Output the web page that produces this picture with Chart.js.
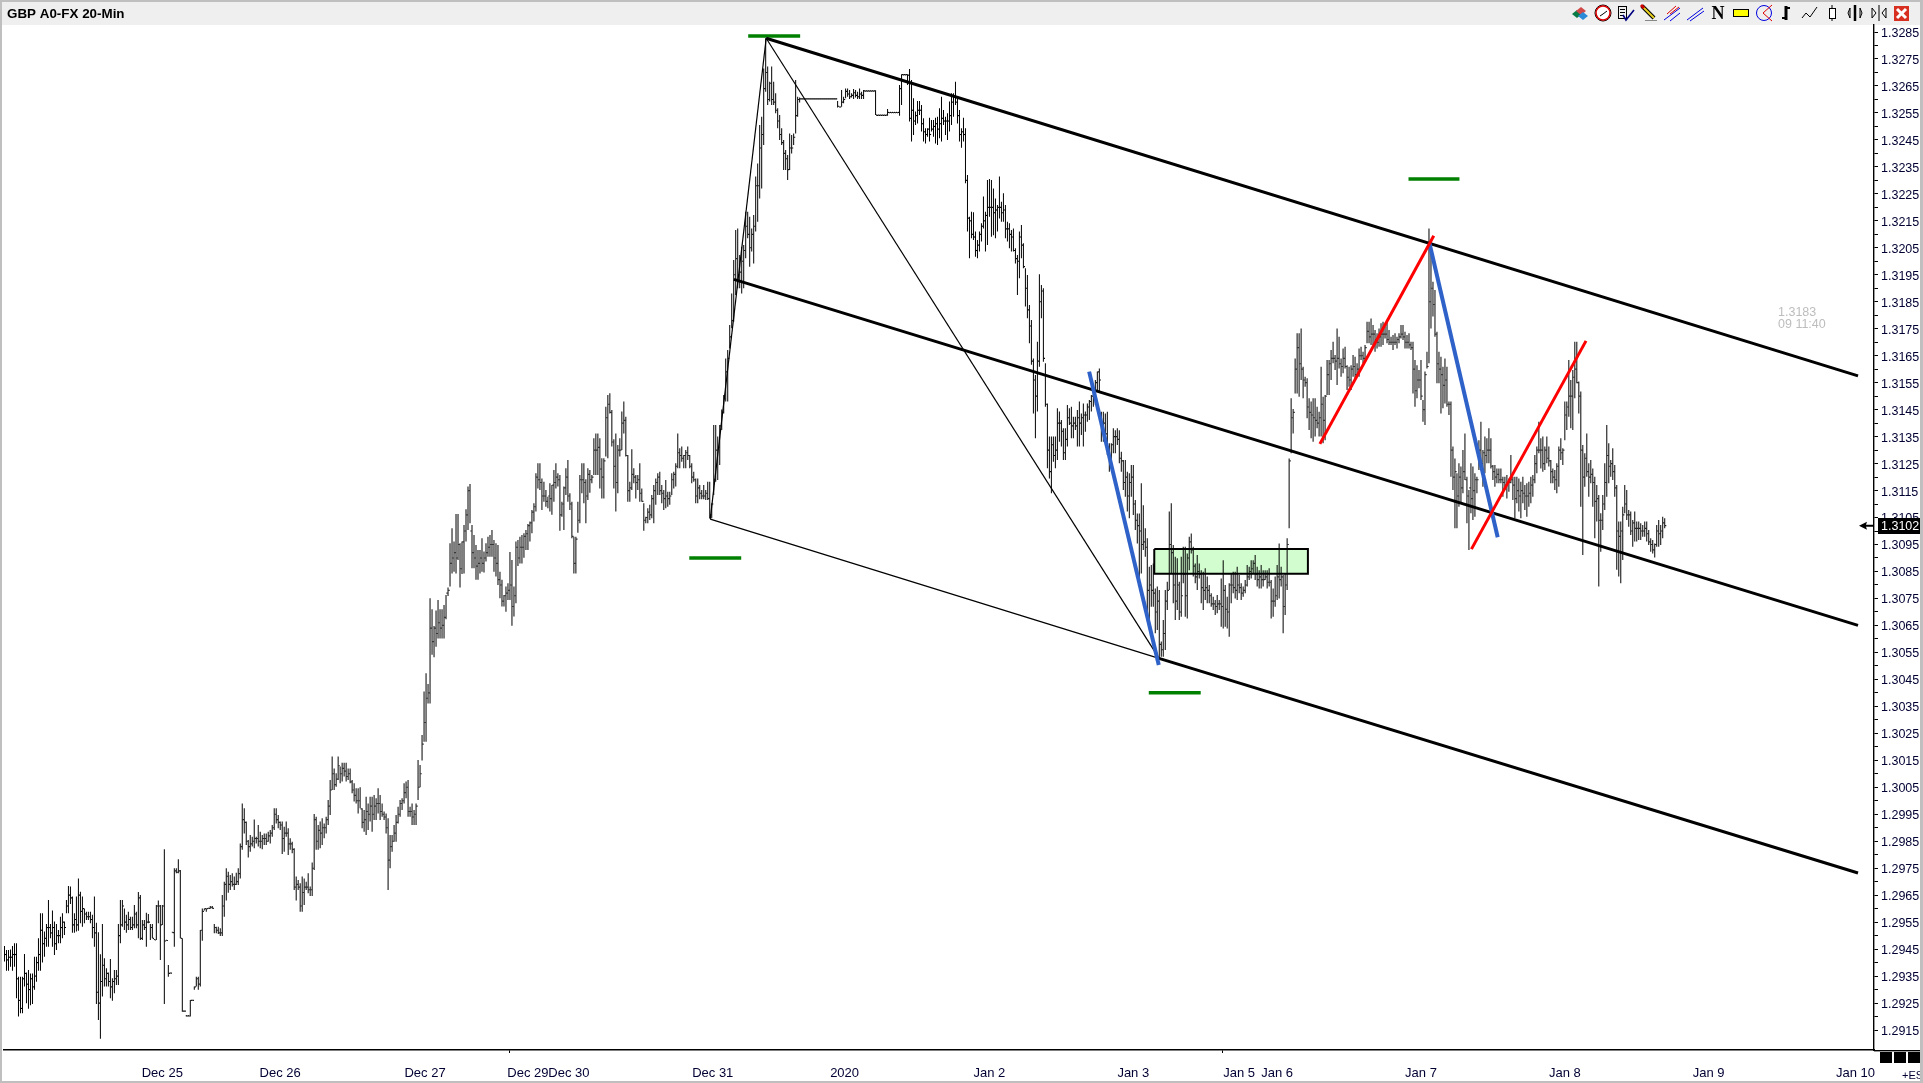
<!DOCTYPE html>
<html><head><meta charset="utf-8"><title>GBP A0-FX 20-Min</title>
<style>html,body{margin:0;padding:0;background:#fff;overflow:hidden}canvas{display:block}</style>
<script src="https://cdn.jsdelivr.net/npm/chart.js@4/dist/chart.umd.min.js"></script>
</head><body><canvas id="c" width="1923" height="1083" style="width:1923px;height:1083px"></canvas>
<script>
// values in points: 100000 points = 1.00000 of price
const highs=[
129462,129447,129447,129449,129462,129472,129472,129348,129348,129348,
129432,129363,129373,129360,129360,129422,129422,129490,129583,129583,
129515,129543,129632,129543,129593,129552,129543,129521,129570,129583,
129552,129632,129684,129682,129645,129583,129645,129712,129663,129645,
129601,129589,129589,129589,129577,129645,129548,129513,129431,129543,
129416,129379,129363,129413,129342,129373,129373,129543,129632,129632,
129601,129577,129589,129570,129570,129614,129589,129662,129651,129558,
129558,129585,129580,129543,129543,129484,129614,129630,129614,129614,
129820,129484,129391,129363,129512,129750,129750,129783,129743,129490,
129222,129206,129206,129261,129261,129311,129348,129348,129521,129601,
129601,129601,129601,129610,129610,129543,129533,129533,129527,129651,
129700,129750,129737,129725,129731,129719,129733,129750,129842,129990,
129972,129923,129855,129873,129867,129931,129867,129910,129885,129873,
129879,129879,129885,129892,129910,129972,129972,129947,129923,129923,
129904,129923,129898,129861,129848,129824,129719,129706,129694,129719,
129712,129700,129731,129682,129771,129951,129941,129910,129923,129935,
129916,129941,130003,130077,
130164,130120,130102,130164,130127,130141,130141,130141,130120,130120,
130077,130065,130046,130046,130050,129972,129966,130015,129990,130015,
130015,130021,130009,130046,130021,129990,129960,129953,129935,129873,
129873,129910,129947,129978,130003,130009,130065,130071,130077,129978,
129990,129966,129990,
130151,130133,130244,130405,130473,130433,130751,130710,130648,130705,
130744,130710,130710,130726,130763,130791,130955,131010,130961,131063,
131063,130955,130961,131022,131081,131165,131174,131022,130985,130948,
130930,130930,130973,130924,130955,130979,130985,131004,130967,130955,
130948,130849,130819,130763,130794,130806,130922,130893,130794,130961,
130967,130979,130985,130992,131004,131026,131035,131078,131103,131214,
131251,131251,131195,131183,131152,131127,131177,131171,131226,131251,
131214,131208,131109,131165,131233,131263,131140,131109,130979,130979,
131109,131208,131251,131251,131192,131233,131226,131208,131344,131362,
131362,131344,131270,131270,131461,131504,131511,131449,131340,131362,
131319,131344,131443,131480,131424,131282,131183,131303,131233,131208,
131208,131251,131158,131103,131053,131084,131097,131134,131171,131195,
131214,131220,131171,131152,131189,131146,131146,131214,131220,131251,
131362,131307,131313,131282,131300,131313,131282,131251,131220,131195,
131195,131171,131152,131171,131152,131183,131183,131103,131393,131393,
131350,131393,131451,131504,131640,131671,
131764,131881,132005,132116,132122,132023,132054,132060,132184,132184,
132165,132122,132172,132314,132363,132505,132536,132715,132827,132722,
132666,132722,132666,132623,132567,132542,132493,132450,132413,132394,
132474,132468,132474,132672,132610,132607,
132604,132604,132604,132604,132604,132604,132604,132604,132604,132604,132604,132604,132604,132604,132604,132604,132604,132604,
132594,132573,132635,132610,132641,132641,132635,132623,132639,132635,132629,132641,132629,132635,
132633,132633,132633,132633,132633,132634,
132543,132543,132543,132543,132543,132565,
132553,132553,132553,132553,132553,132654,132693,132693,132693,132693,
132713,132672,132604,132555,132594,132594,132579,132530,132493,132493,
132532,132524,132524,132532,132536,132567,132610,132561,132536,132549,
132592,132623,132623,132666,132610,132561,132493,132532,132493,132320,
132165,132184,132182,132110,132079,132110,132141,132240,132184,132301,
132305,132301,132270,132233,132209,132314,132221,132252,132209,132147,
132141,132116,132122,132048,132023,132110,132135,132067,131974,131949,
131838,131782,131640,131578,131702,131952,131912,131900,131622,131473,
131350,131350,131350,131350,131455,131443,131412,131381,131381,131467,
131455,131461,131424,131424,131449,131480,131436,131473,131443,131473,
131486,131504,131523,131560,131591,131603,
131442,131442,131436,131442,131325,131325,131381,131374,131381,131374,
131294,131263,131263,131220,131214,131245,131245,131115,131065,131065,
131177,131096,131010,130973,130868,130874,130880,130787,130794,130781,
130590,130670,130781,130812,131072,131103,130948,130905,130899,130812,
130905,130942,130942,130917,130979,130991,130942,130880,130911,130880,
130855,130849,130862,130831,130800,130769,130756,130744,130763,130744,
130824,130892,130800,130756,130806,130843,130849,130849,130868,130837,
130806,130794,130818,130874,130868,130892,130892,130911,130868,130855,
130874,130855,130855,130855,130862,130818,130787,130831,130874,130954,
130868,130837,130843,130973,
131269,131492,131452,131640,131733,131733,131751,131609,131572,131566,
131492,131480,131492,131492,131461,131442,131609,131498,131504,131634,
131634,131671,131702,131653,131751,131720,131640,131677,131683,131615,
131609,131615,131653,131646,131622,131677,131683,131665,131690,131776,
131776,131788,131764,131745,131733,131751,131770,131776,131758,131782,
131745,131720,131727,131733,131720,131733,131764,131764,131739,131727,
131733,131702,131702,131634,131615,131597,131634,131486,131591,131665,
132122,132079,131924,131894,131739,131665,131646,131609,131640,131609,
131480,131480,131313,131269,131214,131251,131239,131300,131362,131201,
131152,131251,131239,131214,131201,131337,131405,131300,131350,131344,
131381,131344,131245,131245,131232,131232,131232,131201,131201,131208,
131195,131282,131201,131201,131201,131195,131183,131201,131171,131177,
131183,131201,131208,131282,131313,131405,131344,131350,131313,131350,
131313,131263,131232,131226,131251,131313,131344,131307,131480,131480,
131634,131560,131597,131702,131702,131554,131517,131319,131288,131362,
131251,131263,131232,131201,131171,131134,131066,131134,131251,131393,
131325,131263,131307,131245,131171,131035,131035,131090,131171,131152,
131078,131072,131041,131072,131035,131035,131029,131022,131035,131035,
131004,130973,130967,130954,131022,131041,131022,131053,131047
];
const lows=[
129404,129370,129370,129385,129370,129385,129268,129200,129212,129212,
129311,129249,129229,129242,129247,129299,129329,129370,129370,129400,
129422,129459,129459,129490,129459,129428,129447,129472,129472,129490,
129502,129583,129583,129617,129511,129511,129515,129518,129546,129533,
129546,129558,129558,129546,129490,129459,129247,129187,129118,129274,
129311,129311,129311,129268,129259,129286,129317,129317,129472,129533,
129521,129511,129521,129521,129521,129527,129527,129490,129484,129484,
129521,129459,129546,129484,129490,129484,129484,129546,129410,129539,
129247,129481,129348,129360,129511,129459,129731,129731,129490,129218,
129218,129200,129200,129200,129259,129299,129311,129299,129311,129481,
129593,129589,129600,129600,129600,129509,129509,129506,129499,129499,
129570,129630,129659,129669,129682,129669,129688,129688,129712,129818,
129879,129836,129790,129811,129830,129824,129842,129830,129824,129820,
129836,129836,129848,129842,129867,129892,129916,129898,129892,129803,
129811,129867,129799,129818,129805,129669,129630,129669,129589,129589,
129614,129669,129657,129647,129647,129743,129818,129818,129824,129836,
129861,129879,129910,129947,
130040,130040,130052,130077,130065,130071,130090,130071,130077,130065,
130028,129997,129990,129953,129972,129898,129885,129873,129892,129923,
129885,129929,129929,129953,129929,129941,129929,129879,129669,129750,
129811,129848,129848,129916,129941,129966,129990,130009,129941,129941,
129910,129910,129910,
130003,130050,130149,130219,130219,130361,130361,130541,130532,130571,
130602,130602,130602,130602,130673,130759,130794,130843,130849,130843,
130893,130791,130841,130843,130961,131004,131029,130862,130862,130819,
130819,130843,130849,130846,130887,130905,130905,130905,130849,130831,
130800,130751,130720,130720,130701,130744,130744,130649,130683,130732,
130870,130880,130880,130901,130930,130930,130961,130992,131035,131072,
131158,131152,131078,131109,131090,131084,131072,131060,131109,131158,
131165,131001,131053,131004,131134,131109,131078,130973,130843,130843,
130994,131029,131140,131103,131029,131115,131142,131177,131208,131208,
131208,131158,131121,131121,131276,131270,131436,131313,131158,131072,
131140,131276,131300,131362,131276,131109,131109,131152,131177,131121,
131152,131109,131109,131001,131029,131029,131041,131047,131029,131097,
131134,131134,131103,131078,131084,131090,131097,131134,131158,131165,
131233,131233,131257,131233,131233,131263,131233,131177,131183,131103,
131103,131118,131118,131118,131115,131115,131047,131047,131134,131183,
131189,131245,131375,131436,131480,131480,
131677,131752,131776,131875,131900,131900,131881,131900,132011,132085,
131980,132036,131992,132110,132147,132233,132270,132431,132629,132579,
132592,132579,132579,132549,132493,132450,132431,132338,132338,132301,
132338,132400,132431,132474,132536,132589,
132600,132600,132600,132600,132600,132600,132600,132600,132600,132600,132600,132600,132600,132600,132600,132600,132600,132600,
132570,132570,132573,132586,132604,132610,132602,132607,132602,132607,132602,132602,132602,132602,
132629,132629,132629,132629,132629,132542,
132539,132539,132539,132539,132539,132540,
132549,132549,132549,132549,132549,132540,132579,132689,132689,132654,
132518,132444,132468,132505,132511,132542,132481,132444,132437,132462,
132444,132481,132462,132437,132431,132456,132444,132505,132468,132450,
132481,132505,132536,132579,132511,132444,132421,132444,132289,132110,
132011,132085,132079,132017,132011,132036,132073,132122,132036,132060,
132165,132091,132097,132085,132110,132159,132147,132147,132085,132073,
132048,132036,132036,131992,131875,131937,132011,131974,131832,131789,
131696,131616,131436,131344,131443,131609,131789,131628,131461,131233,
131195,131140,131257,131233,131263,131331,131313,131263,131263,131313,
131393,131344,131344,131375,131313,131313,131356,131313,131368,131405,
131412,131443,131461,131467,131517,131517,
131331,131331,131343,131282,131220,131251,131288,131288,131319,131251,
131220,131152,131127,131072,131047,131127,131059,131004,130954,130818,
130843,130930,130905,130670,130645,130719,130719,130621,130633,130522,
130534,130534,130559,130707,130781,130843,130732,130670,130707,130670,
130682,130806,130682,130676,130855,130917,130831,130806,130781,130824,
130732,130707,130744,130732,130732,130719,130707,130689,130695,130707,
130645,130639,130645,130639,130608,130732,130769,130750,130744,130769,
130744,130756,130769,130794,130818,130824,130843,130818,130794,130787,
130787,130794,130818,130787,130794,130676,130682,130719,130744,130750,
130794,130621,130689,130781,
131010,131288,131362,131510,131510,131498,131560,131492,131535,131418,
131375,131344,131331,131350,131381,131350,131350,131325,131337,131504,
131504,131560,131622,131597,131541,131603,131572,131585,131603,131523,
131535,131523,131572,131566,131572,131572,131634,131622,131628,131696,
131696,131690,131690,131665,131677,131683,131683,131690,131714,131696,
131690,131690,131671,131690,131677,131696,131714,131708,131677,131677,
131677,131671,131510,131461,131492,131529,131486,131405,131393,131603,
131622,131751,131795,131720,131548,131548,131436,131455,131473,131461,
131430,131201,131152,131010,131010,131090,131103,131140,131189,131029,
130930,131066,131041,131053,131140,131226,131226,131164,131214,131251,
131251,131232,131189,131164,131177,131177,131177,131127,131152,131121,
131146,131177,131115,131047,131103,131072,131047,131103,131078,131053,
131090,131103,131127,131177,131214,131288,131232,131220,131226,131251,
131239,131177,131177,131152,131140,131164,131263,131245,131337,131375,
131424,131381,131375,131492,131548,131436,131090,130911,131164,131201,
131127,131177,131090,130973,131035,130794,130923,131004,131078,131127,
131177,131201,131189,131127,130856,130831,130806,130893,131066,131041,
131016,130985,130942,130961,130961,130967,130967,130979,130979,130961,
130948,130923,130917,130902,130942,130942,130948,130973,131010
];
const closes=[
129430,129410,129420,129420,129430,129430,129340,129260,129230,129340,
129360,129320,129300,129340,129310,129350,129400,129430,129520,129470,
129490,129530,129530,129510,129530,129470,129500,129500,129530,129550,
129530,129610,129650,129640,129540,129560,129540,129650,129590,129600,
129580,129570,129570,129560,129530,129510,129290,129250,129330,129390,
129340,129360,129330,129310,129330,129340,129350,129500,129540,129610,
129550,129540,129560,129530,129540,129580,129540,129640,129490,129540,
129530,129550,129550,129530,129490,129484,129610,129610,129540,129610,
129480,129482,129360,129361,129511,129740,129735,129740,129490,129220,
129220,129202,129202,129260,129260,129310,129340,129320,129520,129590,
129600,129600,129601,129605,129601,129530,129520,129510,129510,129610,
129690,129720,129690,129700,129690,129690,129700,129730,129830,129930,
129920,129850,129830,129840,129850,129860,129860,129850,129850,129860,
129860,129850,129870,129880,129900,129950,129930,129920,129910,129860,
129880,129880,129840,129840,129820,129680,129690,129680,129610,129660,
129680,129680,129670,129670,129750,129930,129850,129890,129880,129900,
129900,129930,129980,130040,
130100,130060,130080,130130,130100,130120,130110,130090,130100,130070,
130040,130020,130000,130000,129970,129920,129930,129960,129950,129980,
129950,129980,129990,129990,129960,129950,129940,129900,129780,129830,
129850,129880,129920,129950,129990,130000,130030,130050,129960,129960,
129940,129950,129980,
130050,130100,130210,130290,130380,130400,130640,130590,130640,130620,
130660,130640,130650,130680,130770,130780,130880,130900,130920,130900,
130950,130860,130960,131000,131060,131150,131000,130920,130900,130870,
130880,130900,130880,130900,130920,130940,130950,130950,130900,130880,
130820,130800,130740,130760,130770,130780,130800,130720,130760,130940,
130900,130940,130940,130980,130990,131020,131030,131070,131090,131200,
131190,131180,131130,131130,131110,131130,131120,131170,131180,131200,
131190,131060,131100,131160,131200,131130,131100,130980,130880,130970,
131040,131190,131190,131180,131130,131210,131190,131200,131300,131300,
131310,131230,131200,131260,131420,131470,131440,131330,131240,131180,
131300,131300,131400,131410,131280,131150,131160,131210,131200,131180,
131190,131140,131110,131040,131050,131070,131060,131120,131150,131180,
131200,131150,131140,131120,131130,131120,131130,131190,131210,131240,
131290,131280,131270,131280,131290,131280,131240,131200,131190,131130,
131160,131140,131130,131130,131140,131120,131060,131100,131190,131300,
131310,131390,131440,131490,131590,131640,
131720,131780,131950,132010,131950,131960,132000,132040,132130,132100,
132050,132100,132130,132280,132280,132420,132470,132640,132700,132600,
132660,132600,132590,132560,132520,132470,132440,132400,132380,132340,
132420,132420,132460,132540,132600,132602,
132602,132602,132602,132602,132602,132602,132602,132602,132602,132602,132602,132602,132602,132602,132602,132602,132602,132602,
132575,132572,132590,132600,132630,132620,132610,132615,132625,132615,132610,132620,132615,132632,
132632,132632,132632,132632,132632,132542,
132542,132542,132542,132542,132542,132552,
132552,132552,132552,132552,132552,132640,132692,132692,132692,132690,
132530,132560,132520,132540,132560,132560,132510,132480,132470,132490,
132470,132490,132500,132510,132490,132510,132530,132520,132520,132520,
132540,132590,132610,132590,132540,132470,132480,132470,132300,132160,
132150,132100,132090,132040,132060,132100,132130,132150,132170,132200,
132200,132200,132180,132190,132200,132200,132180,132190,132120,132120,
132100,132090,132040,132010,132000,132090,132060,131980,131900,131820,
131760,131630,131560,131500,131630,131850,131890,131640,131470,131300,
131220,131320,131280,131300,131400,131400,131370,131290,131340,131420,
131400,131390,131400,131390,131420,131400,131420,131430,131430,131460,
131480,131500,131510,131550,131590,131560,
131380,131400,131360,131310,131240,131320,131350,131350,131340,131270,
131260,131180,131200,131130,131180,131200,131100,131040,131020,131000,
130950,130960,130940,130780,130800,130780,130770,130700,130740,130580,
130560,130620,130740,130780,130950,130920,130800,130740,130800,130700,
130760,130840,130760,130900,130960,130930,130870,130830,130850,130840,
130790,130780,130790,130780,130760,130730,130730,130720,130730,130730,
130720,130780,130710,130700,130800,130800,130790,130780,130800,130790,
130770,130780,130800,130830,130850,130860,130880,130840,130820,130830,
130820,130820,130830,130810,130810,130740,130740,130760,130830,130820,
130830,130720,130800,130950,
131260,131420,131440,131600,131680,131620,131600,131560,131550,131460,
131440,131430,131420,131410,131400,131420,131470,131410,131500,131580,
131620,131640,131640,131630,131640,131620,131610,131640,131610,131570,
131560,131600,131610,131580,131600,131650,131650,131640,131680,131740,
131720,131730,131730,131710,131700,131720,131730,131730,131730,131710,
131700,131700,131700,131700,131710,131720,131730,131720,131700,131700,
131690,131680,131600,131520,131560,131560,131500,131450,131580,131610,
131850,131900,131840,131730,131620,131600,131580,131540,131560,131470,
131470,131300,131200,131220,131130,131200,131160,131220,131190,131130,
131160,131120,131150,131190,131190,131300,131250,131290,131280,131300,
131300,131240,131220,131200,131210,131190,131190,131180,131170,131180,
131180,131190,131170,131120,131150,131130,131150,131140,131130,131130,
131140,131170,131190,131250,131300,131300,131300,131250,131300,131270,
131260,131220,131200,131190,131240,131300,131290,131300,131430,131460,
131500,131500,131570,131600,131550,131500,131300,131200,131270,131220,
131200,131210,131180,131110,131120,131040,131040,131100,131180,131280,
131240,131250,131220,131160,131000,130980,131000,131060,131100,131060,
131060,131000,131030,131010,131010,131010,131000,131000,131010,130990,
130960,130950,130930,130950,131000,130990,131000,131030,131020
];
const priceTicks=[1.3285,1.3280,1.3275,1.3270,1.3265,1.3260,1.3255,1.3250,1.3245,1.3240,1.3235,1.3230,1.3225,1.3220,1.3215,1.3210,1.3205,1.3200,1.3195,1.3190,1.3185,1.3180,1.3175,1.3170,1.3165,1.3160,1.3155,1.3150,1.3145,1.3140,1.3135,1.3130,1.3125,1.3120,1.3115,1.3110,1.3105,1.3100,1.3095,1.3090,1.3085,1.3080,1.3075,1.3070,1.3065,1.3060,1.3055,1.3050,1.3045,1.3040,1.3035,1.3030,1.3025,1.3020,1.3015,1.3010,1.3005,1.3000,1.2995,1.2990,1.2985,1.2980,1.2975,1.2970,1.2965,1.2960,1.2955,1.2950,1.2945,1.2940,1.2935,1.2930,1.2925,1.2920,1.2915];
const dateLabels=["Dec 25","Dec 26","Dec 27","Dec 29","Dec 30","Dec 31","2020","Jan 2","Jan 3","Jan 5","Jan 6","Jan 7","Jan 8","Jan 9","Jan 10"];
const dateBars=[79,138,210.5,262,282.5,354.5,420.5,493,565,618,637,709,781,853,926.5];
const weekStartBars=[253,609.5];
const lastPrice=1.3102;
const channelTop=[[381.25,1.32827],[927.75,1.31575]];
const channelMid=[[365.1,1.31933],[927.75,1.30650]];
const channelLow=[[577.9,1.30528],[927.75,1.29732]];
const pivotA=[[353.25,1.31044],[381.25,1.32827]];
const pivotB=[[381.25,1.32827],[577.9,1.30528]];
const pivotC=[[353.25,1.31044],[577.9,1.30528]];
const blueOne=[[542.9,1.31591],[577.75,1.30503]];
const blueTwo=[[713.25,1.32067],[747.4,1.30977]];
const redOne=[[658.4,1.31323],[715.4,1.32095]];
const redTwo=[[734.25,1.30933],[791.6,1.31705]];
const greenMarks=[[[372.25,1.32835],[398.25,1.32835]],[[702.75,1.32305],[728.25,1.32305]],[[342.75,1.30900],[368.75,1.30900]],[[572.75,1.30400],[598.75,1.30400]]];
const zoneLeft=575.5,zoneRight=652.4,zoneTop=1.30933,zoneBottom=1.30842;

const pts=a=>a.map(p=>({x:p[0],y:p[1]}));
const lineDs=(a,color,w,order)=>({type:'line',data:pts(a),borderColor:color,borderWidth:w,pointRadius:0,tension:0,fill:false,order,borderCapStyle:'butt'});
const allTicks=[...weekStartBars,...dateBars];
const frame={id:'frame',
beforeDraw(ch){const c=ch.ctx;c.save();c.fillStyle='#fff';c.fillRect(0,0,1923,1083);c.fillStyle='#efefef';c.fillRect(0,0,1923,25);
c.fillStyle='#000';c.font='bold 13.4px "Liberation Sans",sans-serif';c.textBaseline='middle';c.textAlign='left';c.fillText('GBP A0-FX 20-Min',7,14);c.restore();},
afterDraw(ch){const c=ch.ctx,y=ch.scales.y.getPixelForValue(lastPrice);c.save();
c.fillStyle='#000';c.fillRect(1874,1050,49,1.4);
const py=Math.round(y)-8;c.fillRect(1878,py+0,43,16);c.fillStyle='#fff';c.font='12.5px "Liberation Sans",sans-serif';c.textBaseline='middle';c.textAlign='left';c.fillText(lastPrice.toFixed(4),1881,py+9);
c.fillStyle='#000';c.beginPath();c.moveTo(1859,y);c.lineTo(1867,y-4);c.lineTo(1866,y-1);c.lineTo(1873,y-1);c.lineTo(1873,y+1);c.lineTo(1866,y+1);c.lineTo(1867,y+4);c.closePath();c.fill();
[1880,1894,1908].forEach(x=>c.fillRect(x,1052,12,11));
c.fillStyle='#000033';c.font='11px "Liberation Sans",sans-serif';c.textAlign='left';c.fillText('+ES',1902,1076);
c.fillStyle='#bdbdbd';c.font='12.5px "Liberation Sans",sans-serif';c.fillText('1.3183',1778,313);c.fillText('09 11:40',1778,325);
// window frame
c.fillStyle='#bfbfbf';c.fillRect(0,0,1923,2);c.fillRect(0,0,2,1083);c.fillRect(0,1081,1923,2);c.fillRect(1920,0,3,1083);
icons(c);c.restore();}};
function icons(c){const L=(pts,col,w)=>{c.strokeStyle=col;c.lineWidth=w;c.beginPath();pts.forEach((p,i)=>i?c.lineTo(p[0],p[1]):c.moveTo(p[0],p[1]));c.stroke();};
const D=(x,y,col)=>{c.fillStyle=col;c.beginPath();c.moveTo(x,y-4);c.lineTo(x+5,y);c.lineTo(x,y+4);c.lineTo(x-5,y);c.fill();};
D(1577,14,'#0a7a45');D(1581,11,'#d04848');D(1583,16,'#2a8ad8');
c.fillStyle='#fff';c.beginPath();c.arc(1603,13,7,0,7);c.fill();c.strokeStyle='#000';c.lineWidth=1;c.beginPath();c.arc(1603,13,8,0,7);c.stroke();c.strokeStyle='#e00000';c.lineWidth=1.5;c.beginPath();c.arc(1603,13,7,0,7);c.stroke();L([[1603,14],[1607,11]],'#000',1);L([[1603,14],[1600,16]],'#000',1);
c.strokeStyle='#000';c.lineWidth=1;c.strokeRect(1618.5,6.5,8,12);L([[1620,9.5],[1625,9.5]],'#000',1);L([[1620,12.5],[1625,12.5]],'#000',1);L([[1620,15.5],[1624,15.5]],'#000',1);L([[1623,15],[1626,20],[1634,10]],'#000080',1.6);
L([[1642,6],[1654,18]],'#000',4);L([[1642.5,6.5],[1654,18]],'#e8d020',2);L([[1641,5],[1644,8]],'#d00000',3);L([[1645,20.5],[1657,20.5]],'#888',1);
L([[1664,20],[1680,8]],'#0000e0',1);L([[1670,21],[1680,13]],'#0000e0',1);L([[1667,14],[1676,6]],'#e00000',1);L([[1670,14],[1679,7]],'#e00000',1);
L([[1687,20],[1703,8]],'#0000e0',1);L([[1690,21],[1704,11]],'#0000e0',1);
c.fillStyle='#000';c.font='bold 18px "Liberation Serif",serif';c.textAlign='center';c.textBaseline='middle';c.fillText('N',1718,14);
c.fillStyle='#ffff00';c.fillRect(1733,9,16,8);c.strokeStyle='#000';c.lineWidth=1;c.strokeRect(1733.5,9.5,15,7);
c.strokeStyle='#0000e0';c.beginPath();c.arc(1764,13,7.5,0,7);c.stroke();L([[1772,5],[1763,13],[1772,21]],'#e00000',1);
L([[1786,6],[1786,20]],'#000',3);L([[1786,8],[1790,8]],'#000',2);L([[1782,18],[1786,18]],'#000',2);
L([[1802,18],[1806,13],[1810,17],[1817,7]],'#000',1);
L([[1832,5],[1832,21]],'#000',1);c.fillStyle='#fff';c.fillRect(1829,8,6,10);c.strokeStyle='#000';c.strokeRect(1829.5,8.5,6,10);
L([[1855,5],[1855,21]],'#000',2.5);L([[1850,8],[1848,13],[1850,18],[1850,8]],'#000',1);L([[1860,8],[1862,13],[1860,18],[1860,8]],'#000',1);
L([[1879,5],[1879,21]],'#000',1);L([[1872,8],[1876,13],[1872,18],[1872,8]],'#000',1);L([[1886,8],[1882,13],[1886,18],[1886,8]],'#000',1);
c.fillStyle='#d83020';c.fillRect(1894,6,15,15);L([[1897,9],[1906,18]],'#fff',3);L([[1906,9],[1897,18]],'#fff',3);}
new Chart(document.getElementById('c'),{type:'bar',
data:{datasets:[
{type:'line',data:pts([[zoneLeft,zoneTop],[zoneRight,zoneTop]]),borderWidth:0,pointRadius:0,backgroundColor:'#d2fdcf',fill:{value:zoneBottom},order:9},
{type:'bar',data:highs.map((h,i)=>({x:i,y:[lows[i]/1e5,h/1e5]})),backgroundColor:'#000',barThickness:1,minBarLength:1,inflateAmount:0,order:6},
{type:'line',data:closes.map((v,i)=>({x:i+0.5,y:v/1e5})),showLine:false,pointStyle:'rect',pointRadius:0.8,pointBorderWidth:0,pointBackgroundColor:'#000',order:5},
lineDs([[zoneLeft,zoneTop],[zoneRight,zoneTop],[zoneRight,zoneBottom],[zoneLeft,zoneBottom],[zoneLeft,zoneTop]],'#000',2,4),
lineDs(pivotA,'#000',1.2,4),lineDs(pivotB,'#000',1.2,4),lineDs(pivotC,'#000',1.2,4),
lineDs(channelTop,'#000',3,3),lineDs(channelMid,'#000',3,3),lineDs(channelLow,'#000',3,3),
...greenMarks.map(g=>lineDs(g,'#008000',3.5,3)),
lineDs(blueOne,'#2f62c9',4,2),lineDs(blueTwo,'#2f62c9',4,2),
lineDs(redOne,'#ff0000',3,1),lineDs(redTwo,'#ff0000',3,1)
]},
plugins:[frame],
options:{responsive:false,animation:false,events:[],
layout:{padding:{left:2,right:2,top:25,bottom:2}},
plugins:{legend:{display:false},tooltip:{enabled:false},title:{display:false}},
scales:{
x:{type:'linear',offset:false,min:-0.25,max:935.75,
afterBuildTicks:s=>{s.ticks=allTicks.map(v=>({value:v}));},
afterFit:s=>{s.height=31;},
border:{color:'#000',width:1.4},
grid:{offset:false,drawOnChartArea:false,tickLength:3,tickWidth:1,tickColor:t=>weekStartBars.includes(t.tick.value)?'#000':'rgba(0,0,0,0)'},
ticks:{autoSkip:false,maxRotation:0,minRotation:0,padding:13,color:'#000033',font:{family:'"Liberation Sans",sans-serif',size:13},
callback:v=>{const k=dateBars.indexOf(v);return k<0?'':dateLabels[k];}}},
y:{type:'linear',position:'right',min:1.29076,max:1.32876,
afterBuildTicks:s=>{s.ticks=priceTicks.map(v=>({value:v}));},
afterFit:s=>{s.width=47;},
border:{color:'#000',width:1.4},
grid:{drawOnChartArea:false,tickLength:4,tickWidth:1,tickColor:'#000'},
ticks:{autoSkip:false,padding:3,labelOffset:1.5,color:'#000033',font:{family:'"Liberation Sans",sans-serif',size:12.5},
callback:v=>{const s=v.toFixed(4);return s.endsWith('5')?s:'';}}}
}}});
</script></body></html>
